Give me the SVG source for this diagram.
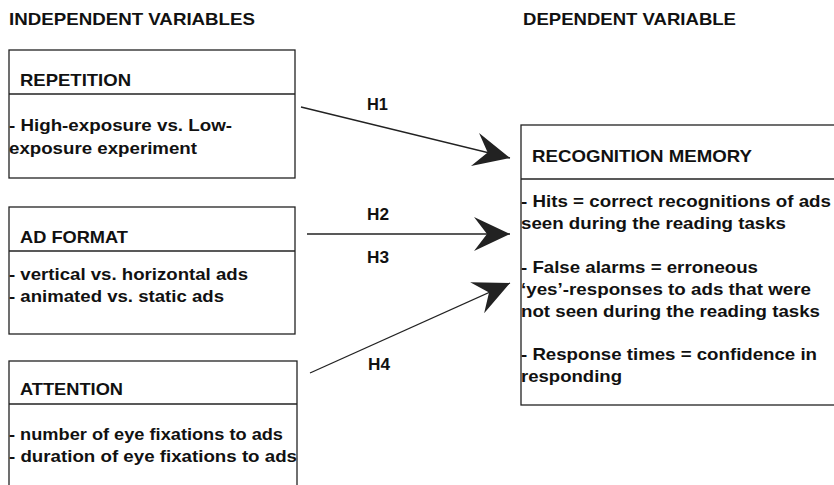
<svg xmlns="http://www.w3.org/2000/svg" width="834" height="485" viewBox="0 0 834 485">
<style>
text{font-family:"Liberation Sans",Arial,sans-serif;font-weight:bold;font-size:16.5px;fill:#111}
.box{fill:#fff;stroke:#222;stroke-width:1.3}
.div{stroke:#222;stroke-width:1.3}
.conn{stroke:#222;stroke-width:1.3;fill:none}
</style>
<defs>
<marker id="ah" markerUnits="userSpaceOnUse" viewBox="-37 -18 38 36" markerWidth="38" markerHeight="36" refX="0" refY="0" orient="auto">
<path d="M0,0 L-36,-17 L-23,0 L-36,17 Z" fill="#222"/>
</marker>
</defs>
<rect width="834" height="485" fill="#fff"/>
<g id="headers">
<text x="9" y="25" textLength="246" lengthAdjust="spacingAndGlyphs">INDEPENDENT VARIABLES</text>
<text x="523" y="25" textLength="213" lengthAdjust="spacingAndGlyphs">DEPENDENT VARIABLE</text>
</g>
<g id="repetition">
<rect class="box" x="9" y="50" width="286" height="128"/>
<line class="div" x1="9" y1="94" x2="295" y2="94"/>
<text x="20" y="86" textLength="111" lengthAdjust="spacingAndGlyphs">REPETITION</text>
<text x="9" y="131" textLength="223" lengthAdjust="spacingAndGlyphs">- High-exposure vs. Low-</text>
<text x="9" y="154" textLength="188" lengthAdjust="spacingAndGlyphs">exposure experiment</text>
</g>
<g id="adformat">
<rect class="box" x="9" y="207" width="286" height="127"/>
<line class="div" x1="9" y1="251" x2="295" y2="251"/>
<text x="20" y="243" textLength="108" lengthAdjust="spacingAndGlyphs">AD FORMAT</text>
<text x="9" y="280" textLength="239" lengthAdjust="spacingAndGlyphs">- vertical vs. horizontal ads</text>
<text x="9" y="302" textLength="215" lengthAdjust="spacingAndGlyphs">- animated vs. static ads</text>
</g>
<g id="attention">
<rect class="box" x="9" y="361" width="288" height="140"/>
<line class="div" x1="9" y1="404" x2="297" y2="404"/>
<text x="20" y="395" textLength="103" lengthAdjust="spacingAndGlyphs">ATTENTION</text>
<text x="9" y="440" textLength="274" lengthAdjust="spacingAndGlyphs">- number of eye fixations to ads</text>
<text x="9" y="462" textLength="288" lengthAdjust="spacingAndGlyphs">- duration of eye fixations to ads</text>
</g>
<g id="recognition">
<rect class="box" x="521" y="125" width="330" height="280"/>
<line class="div" x1="521" y1="179" x2="834" y2="179"/>
<text x="532" y="162" textLength="220" lengthAdjust="spacingAndGlyphs">RECOGNITION MEMORY</text>
<text x="521" y="207" textLength="310" lengthAdjust="spacingAndGlyphs">- Hits = correct recognitions of ads</text>
<text x="521" y="229" textLength="265" lengthAdjust="spacingAndGlyphs">seen during the reading tasks</text>
<text x="521" y="273" textLength="237" lengthAdjust="spacingAndGlyphs">- False alarms = erroneous</text>
<text x="521" y="295" textLength="290" lengthAdjust="spacingAndGlyphs">‘yes’-responses to ads that were</text>
<text x="521" y="317" textLength="299" lengthAdjust="spacingAndGlyphs">not seen during the reading tasks</text>
<text x="521" y="360" textLength="296" lengthAdjust="spacingAndGlyphs">- Response times = confidence in</text>
<text x="521" y="382" textLength="101" lengthAdjust="spacingAndGlyphs">responding</text>
</g>
<g id="connectors">
<line class="conn" x1="301" y1="107" x2="510" y2="158" marker-end="url(#ah)"/>
<line class="conn" x1="307" y1="234" x2="510" y2="234" marker-end="url(#ah)"/>
<line class="conn" x1="310" y1="373" x2="510" y2="283" marker-end="url(#ah)"/>
<text x="367" y="110" textLength="21" lengthAdjust="spacingAndGlyphs">H1</text>
<text x="367" y="220" textLength="22" lengthAdjust="spacingAndGlyphs">H2</text>
<text x="367" y="263" textLength="22" lengthAdjust="spacingAndGlyphs">H3</text>
<text x="368" y="370" textLength="22" lengthAdjust="spacingAndGlyphs">H4</text>
</g>
</svg>
